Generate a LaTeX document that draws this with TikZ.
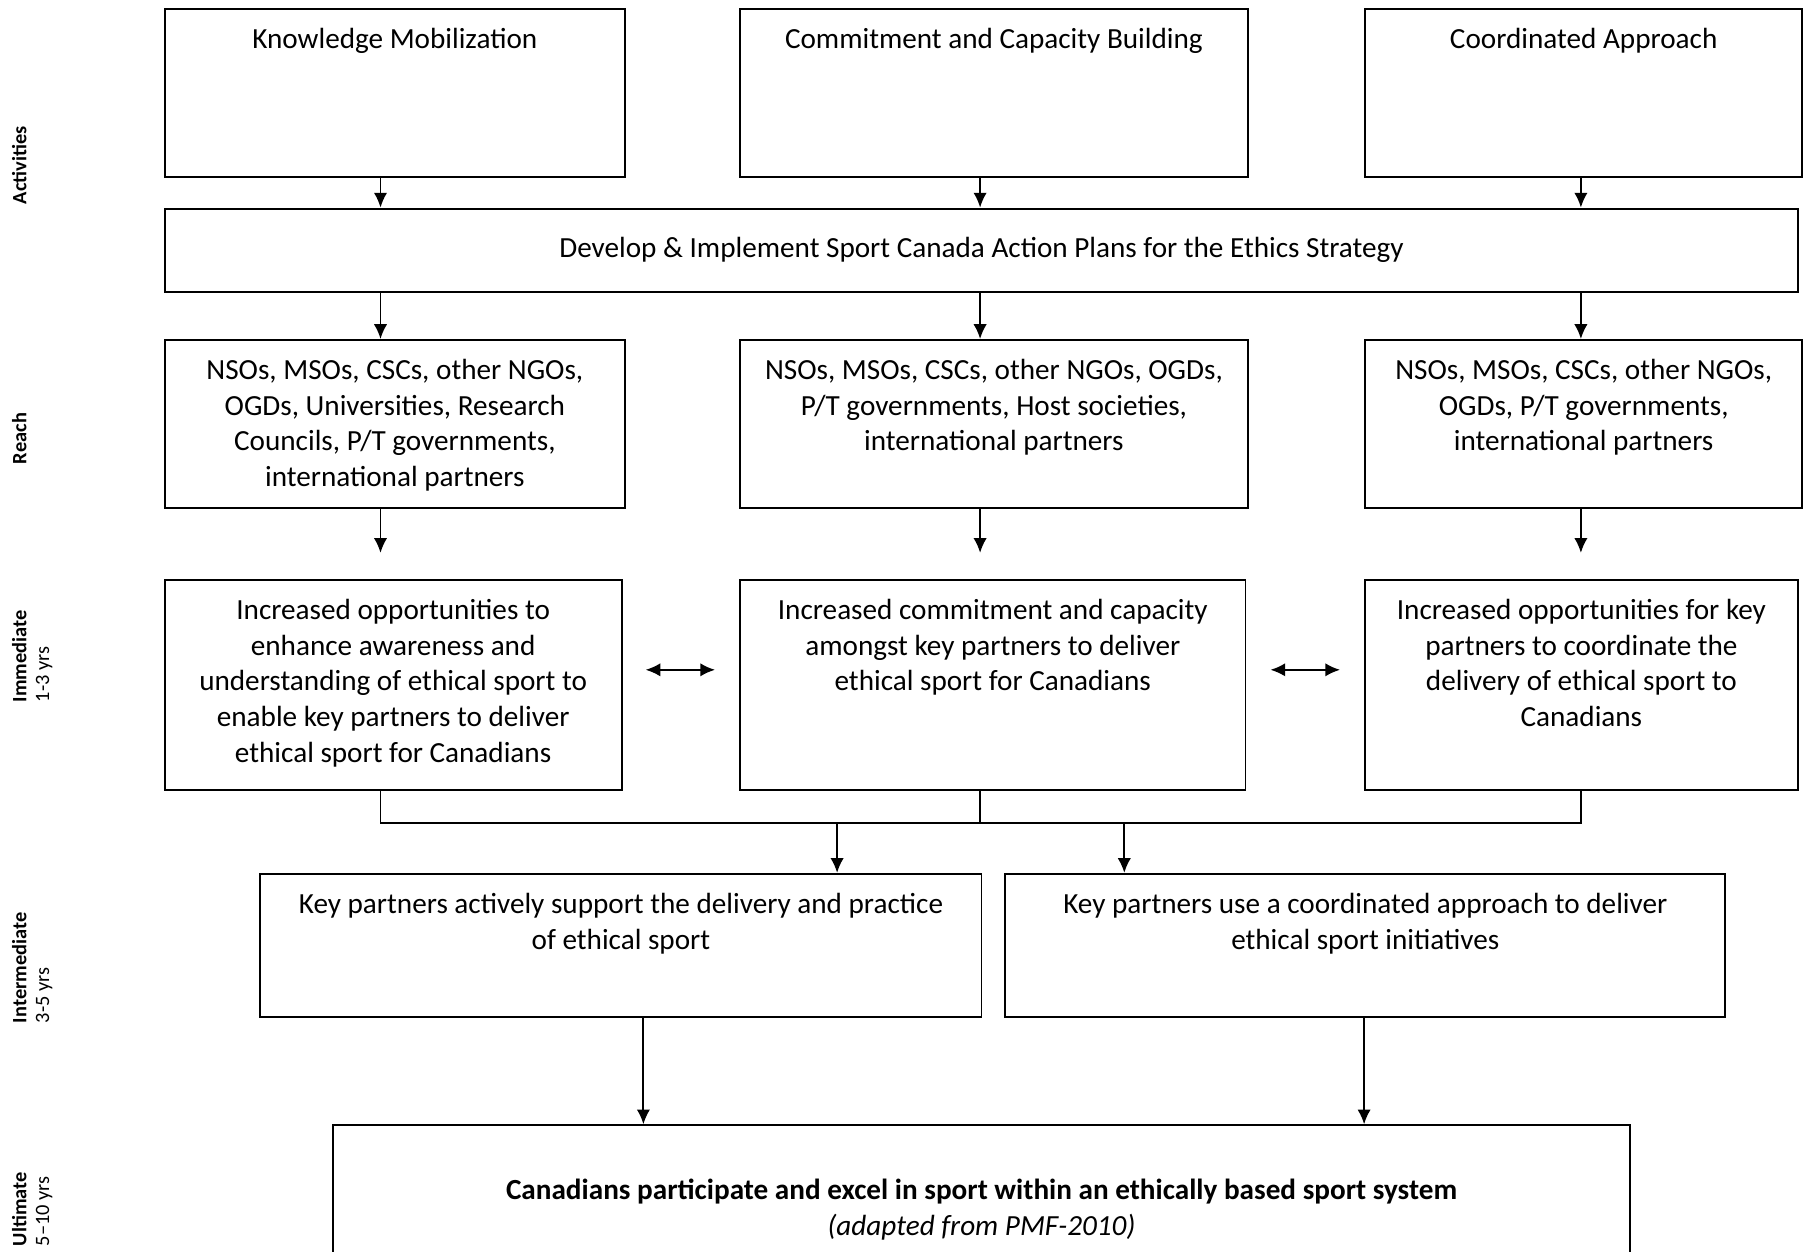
\documentclass[tikz,border=0pt]{standalone}
\usepackage{fontspec}
\setmainfont{Carlito}
\usepackage{tikz}
\usetikzlibrary{positioning, arrows.meta}

\begin{document}
\begin{tikzpicture}[
x=0.01cm, y=-0.01cm, line width=0.55pt, >={Latex[length=4.2pt,width=3.8pt]},
box/.style = {draw, rectangle, inner sep=0pt, anchor=north west},
txt/.style = {align=center, inner sep=0pt},
lab/.style = {rotate=90, align=left, anchor=north west, inner sep=0pt, font=\fontsize{5.8}{6.5}\selectfont}]
\tikzstyle{every node}=[font=\fontsize{8.3}{10.2}\selectfont]
\useasboundingbox (0,0) rectangle (1808,1252);
% columns used by the connectors
\coordinate (c1) at (380.5,0);
\coordinate (c2) at (980.1,0);
\coordinate (c3) at (1580.9,0);
\coordinate (k1) at (837.1,0);
\coordinate (k2) at (1124.3,0);
\coordinate (d1) at (643.4,0);
\coordinate (d2) at (1364.1,0);
\coordinate (mrg) at (0,823.3);
% row labels
\node[lab] (lact) at (11,205) {\textbf{Activities}};
\node[lab] (lrea) at (11,465) {\textbf{Reach}};
\node[lab] (limm) at (11,703) {\textbf{Immediate}\\1-3 yrs};
\node[lab] (lint) at (11,1024) {\textbf{Intermediate}\\3-5 yrs};
\node[lab] (lult) at (11,1247) {\textbf{Ultimate}\\5–10 yrs};
% activities
\node[box, minimum width=4.601cm, minimum height=1.683cm] (a1) at (163.7,8.1) {};
\node[box, minimum width=5.074cm, minimum height=1.683cm] (a2) at (739.1,8.1) {};
\node[box, minimum width=4.37cm, minimum height=1.683cm] (a3) at (1364.1,8.1) {};
\node[txt, below=0.19cm of a1.north] (a1t) {Knowledge Mobilization};
\node[txt, below=0.19cm of a2.north] (a2t) {Commitment and Capacity Building};
\node[txt, below=0.19cm of a3.north] (a3t) {Coordinated Approach};
\node[box, minimum width=16.328cm, minimum height=0.83cm] (dev) at (163.7,207.6) {};
\node[txt] (devt) at (dev.center) {Develop \& Implement Sport Canada Action Plans for the Ethics Strategy};
% reach
\node[box, minimum width=4.601cm, minimum height=1.684cm] (r1) at (163.7,339) {};
\node[box, minimum width=5.074cm, minimum height=1.684cm] (r2) at (739.1,339) {};
\node[box, minimum width=4.37cm, minimum height=1.684cm] (r3) at (1364.1,339) {};
\node[txt, below=0.19cm of r1.north] (r1t) {NSOs, MSOs, CSCs, other NGOs,\\OGDs, Universities, Research\\Councils, P/T governments,\\international partners};
\node[txt, below=0.19cm of r2.north] (r2t) {NSOs, MSOs, CSCs, other NGOs, OGDs,\\P/T governments, Host societies,\\international partners};
\node[txt, below=0.19cm of r3.north] (r3t) {NSOs, MSOs, CSCs, other NGOs,\\OGDs, P/T governments,\\international partners};
% immediate
\node[box, minimum width=4.567cm, minimum height=2.098cm] (i1) at (163.7,578.9) {};
\node[box, minimum width=5.051cm, minimum height=2.098cm] (i2) at (739.1,578.9) {};
\node[box, minimum width=4.324cm, minimum height=2.098cm] (i3) at (1364.1,578.9) {};
\node[txt, below=0.19cm of i1.north] (i1t) {Increased opportunities to\\enhance awareness and\\understanding of ethical sport to\\enable key partners to deliver\\ethical sport for Canadians};
\node[txt, below=0.19cm of i2.north] (i2t) {Increased commitment and capacity\\amongst key partners to deliver\\ethical sport for Canadians};
\node[txt, below=0.19cm of i3.north] (i3t) {Increased opportunities for key\\partners to coordinate the\\delivery of ethical sport to\\Canadians};
% intermediate
\node[box, minimum width=7.207cm, minimum height=1.43cm] (m1) at (259.4,872.9) {};
\node[box, minimum width=7.196cm, minimum height=1.43cm] (m2) at (1004.3,872.9) {};
\node[txt, below=0.19cm of m1.north] (m1t) {Key partners actively support the delivery and practice\\of ethical sport};
\node[txt, below=0.19cm of m2.north] (m2t) {Key partners use a coordinated approach to deliver\\ethical sport initiatives};
% ultimate
\node[box, minimum width=12.961cm, minimum height=1.6cm] (u) at (332.1,1124.3) {};
\node[txt, below=0.54cm of u.north] (ut) {\textbf{Canadians participate and excel in sport within an ethically based sport system}\\\textit{(adapted from PMF-2010)}};
% connectors
\draw[->] (a1.south -| c1) -- (dev.north -| c1);
\draw[->] (a2.south -| c2) -- (dev.north -| c2);
\draw[->] (a3.south -| c3) -- (dev.north -| c3);
\draw[->] (dev.south -| c1) -- (r1.north -| c1);
\draw[->] (dev.south -| c2) -- (r2.north -| c2);
\draw[->] (dev.south -| c3) -- (r3.north -| c3);
\draw[->, shorten >=0.26cm] (r1.south -| c1) -- (i1.north -| c1);
\draw[->, shorten >=0.26cm] (r2.south -| c2) -- (i2.north -| c2);
\draw[->, shorten >=0.26cm] (r3.south -| c3) -- (i3.north -| c3);
\draw[<->, shorten <=0.23cm, shorten >=0.24cm] ([yshift=0.15cm]i1.east) -- ([yshift=0.15cm]i2.west);
\draw[<->, shorten <=0.24cm, shorten >=0.24cm] ([yshift=0.15cm]i2.east) -- ([yshift=0.15cm]i3.west);
\draw (i1.south -| c1) -- (c1 |- mrg) -- (c3 |- mrg) -- (i3.south -| c3);
\draw (i2.south -| c2) -- (c2 |- mrg);
\draw[->] (k1 |- mrg) -- (m1.north -| k1);
\draw[->] (k2 |- mrg) -- (m2.north -| k2);
\draw[->] (m1.south -| d1) -- (u.north -| d1);
\draw[->] (m2.south -| d2) -- (u.north -| d2);
\end{tikzpicture}
\end{document}
